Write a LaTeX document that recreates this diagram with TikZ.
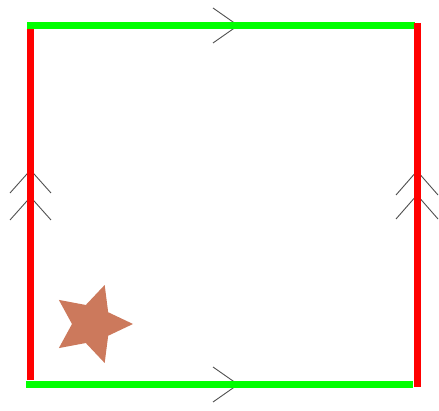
\documentclass[tikz,border=0pt]{standalone}
\usetikzlibrary{calc}
\definecolor{myred}{RGB}{255,0,0}
\definecolor{mygreen}{RGB}{0,255,0}
\definecolor{mygray}{RGB}{80,80,80}
\definecolor{starcol}{RGB}{204,121,92}
\begin{document}
\begin{tikzpicture}[x=1pt,y=-1pt,
  redline/.style={draw=myred,line width=7pt},
  greenline/.style={draw=mygreen,line width=7pt},
  chev/.style={draw=mygray,line width=0.9pt}]
\useasboundingbox (0,0) rectangle (439,411);
% chevrons
\draw[chev] (213,8) -- (238,25.5) -- (213,43);
\draw[chev] (213,367) -- (238,384.5) -- (213,402);
\draw[chev] (10,193) -- (30.5,170) -- (51,193);
\draw[chev] (10,220) -- (30.5,197) -- (51,220);
\draw[chev] (396,195) -- (417,171) -- (438,195);
\draw[chev] (396,219) -- (417,195) -- (438,219);
% frame
\coordinate (lt) at (30.5,25); \coordinate (lb) at (30.5,380);
\draw[redline] (lt) -- (lb);
\coordinate (tl) at (27,25.5); \coordinate (tr) at (415,25.5);
\draw[greenline] (tl) -- (tr);
\coordinate (bl) at (26,384.5); \coordinate (br) at (413,384.5);
\draw[greenline] (bl) -- (br);
\coordinate (rt) at (417,23); \coordinate (rb) at (417,387);
\draw[redline] (rt) -- (rb);
% star
\coordinate (sc) at (92,324);
\fill[starcol]
  ($(sc)+(0:41)$) -- ($(sc)+(36:20)$) -- ($(sc)+(72:41)$) -- ($(sc)+(108:20)$)
  -- ($(sc)+(144:41)$) -- ($(sc)+(180:20)$) -- ($(sc)+(216:41)$) -- ($(sc)+(252:20)$)
  -- ($(sc)+(288:41)$) -- ($(sc)+(324:20)$) -- cycle;
\end{tikzpicture}
\end{document}
